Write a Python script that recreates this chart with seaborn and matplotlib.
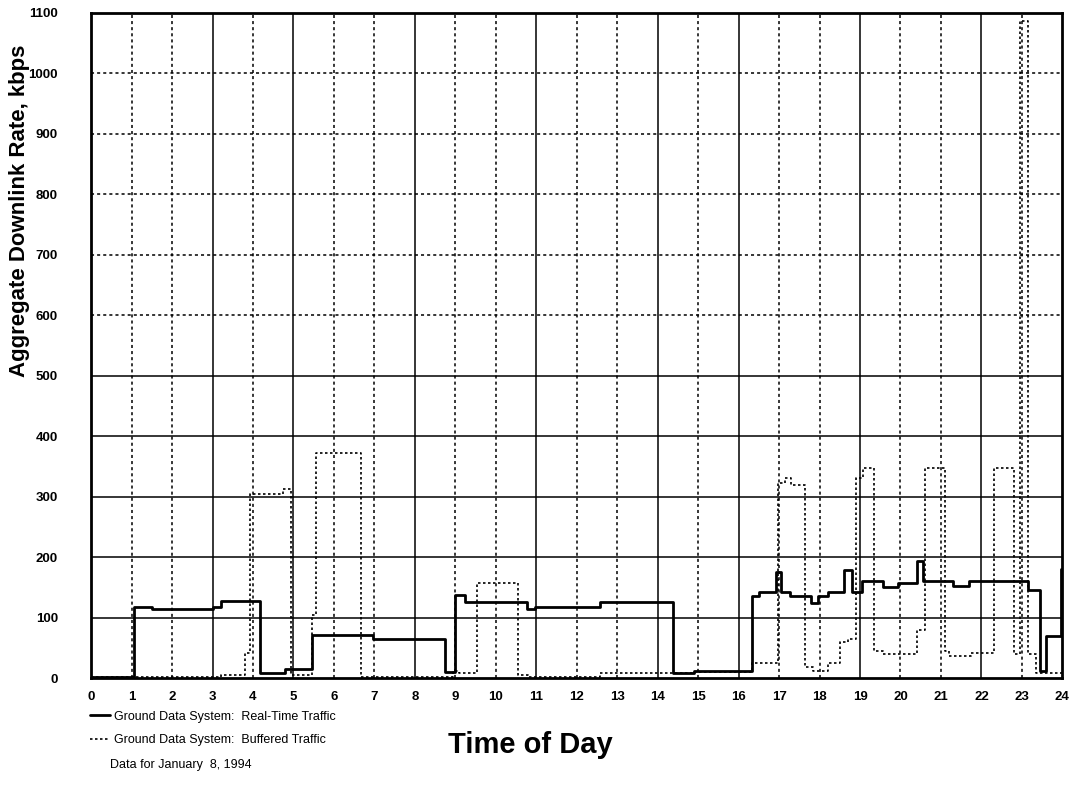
import matplotlib

matplotlib.use("Agg")

import matplotlib.pyplot as plt
import pandas as pd
import seaborn as sns

sns.set_style("white")
plt.rcParams["font.family"] = ["Liberation Sans", "DejaVu Sans"]
plt.rcParams["text.color"] = "black"
plt.rcParams["axes.labelcolor"] = "black"
plt.rcParams["xtick.color"] = "black"
plt.rcParams["ytick.color"] = "black"

# step breakpoints (hour of day -> kbps, held until next breakpoint)
realtime_hours = [0, 1.05, 1.5, 3.0, 3.2, 4.18, 4.8, 5.45, 6.97, 8.75, 9.0, 9.25,
                  10.77, 10.97, 12.58, 14.38, 14.9, 16.33, 16.5, 16.93, 17.05, 17.28,
                  17.8, 17.95, 18.2, 18.6, 18.8, 19.05, 19.58, 19.95, 20.4, 20.55,
                  21.3, 21.7, 23.15, 23.45, 23.6, 23.97, 24.0]
realtime_kbps = [2, 117, 115, 118, 128, 8, 15, 72, 65, 10, 137, 125,
                 115, 117, 126, 8, 12, 135, 142, 175, 142, 135,
                 124, 135, 142, 178, 142, 160, 150, 157, 193, 160,
                 152, 160, 145, 12, 70, 180, 180]

buffered_hours = [0, 3.2, 3.8, 3.93, 4.75, 4.93, 5.45, 5.55, 6.68, 8.95, 9.1, 9.53,
                  10.55, 10.8, 12.58, 14.9, 16.33, 16.97, 17.15, 17.3, 17.65, 17.85,
                  18.2, 18.5, 18.7, 18.9, 19.08, 19.35, 19.58, 20.4, 20.6, 21.1,
                  21.2, 21.75, 22.3, 22.8, 22.95, 23.15, 23.35, 24.0]
buffered_kbps = [2, 5, 42, 305, 313, 5, 105, 372, 2, 12, 8, 158,
                 5, 2, 8, 10, 25, 322, 330, 320, 18, 12,
                 25, 60, 65, 330, 348, 44, 40, 80, 347, 44,
                 36, 42, 347, 40, 1087, 40, 8, 8]

x_ticks = list(range(0, 25))
y_ticks = list(range(0, 1101, 100))
solid_hours = [3, 5, 8, 11, 14, 16, 19, 22]
solid_levels = [100, 200, 300, 400, 500]

rt = pd.DataFrame({"hour": realtime_hours, "kbps": realtime_kbps})
bf = pd.DataFrame({"hour": buffered_hours, "kbps": buffered_kbps})

fig = plt.figure(figsize=(10.72, 7.94), dpi=100)
ax = fig.add_axes([0.085, 0.146, 0.906, 0.838])

# grid: mix of solid and dotted rules as in the original plot
for h in x_ticks[1:-1]:
    if h in solid_hours:
        ax.axvline(h, color="black", lw=1.1, zorder=1)
    else:
        ax.axvline(h, color="black", lw=1.1, ls=(0, (2, 2)), zorder=1)
for v in y_ticks[1:-1]:
    if v in solid_levels:
        ax.axhline(v, color="black", lw=1.1, zorder=1)
    else:
        ax.axhline(v, color="black", lw=1.1, ls=(0, (2, 2)), zorder=1)

sns.lineplot(data=rt, x="hour", y="kbps", ax=ax, color="black", lw=2.0,
             drawstyle="steps-post", estimator=None, sort=False, zorder=3,
             label="Ground Data System:  Real-Time Traffic")
sns.lineplot(data=bf, x="hour", y="kbps", ax=ax, color="black", lw=1.2,
             ls=(0, (1.5, 1.5)), drawstyle="steps-post", estimator=None,
             sort=False, zorder=2, label="Ground Data System:  Buffered Traffic")

ax.set_xlim(0, 24)
ax.set_ylim(0, 1100)
ax.set_xticks(x_ticks)
ax.set_yticks(y_ticks)
ax.tick_params(axis="both", length=0, labelsize=9.5)
ax.tick_params(axis="x", pad=9)
ax.tick_params(axis="y", pad=24)
for lbl in ax.get_xticklabels() + ax.get_yticklabels():
    lbl.set_fontweight("bold")
for side in ["top", "right", "bottom", "left"]:
    ax.spines[side].set_color("black")
    ax.spines[side].set_linewidth(2.0)

ax.set_xlabel("")
ax.set_ylabel("")
fig.text(0.018, 0.735, "Aggregate Downlink Rate, kbps", fontsize=16,
         fontweight="bold", rotation=90, ha="center", va="center")
fig.text(0.495, 0.062, "Time of Day", fontsize=21, fontweight="bold",
         ha="center", va="center")

ax.legend(loc="upper left", bbox_to_anchor=(0.078, 0.113),
          bbox_transform=fig.transFigure, frameon=False, fontsize=9,
          handlelength=1.6, handletextpad=0.3, borderpad=0, labelspacing=0.95)
fig.text(0.103, 0.036, "Data for January  8, 1994", fontsize=9, va="center")

fig.savefig("out.png", dpi=100)
plt.close(fig)
